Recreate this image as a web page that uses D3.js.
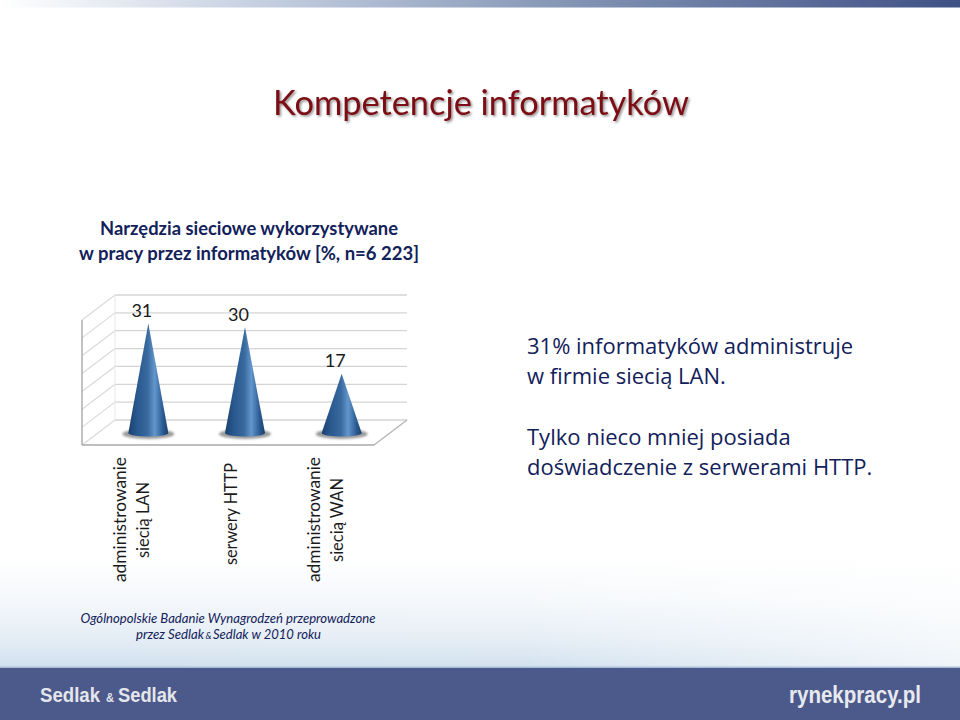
<!DOCTYPE html>
<html><head><meta charset="utf-8">
<script src="https://cdn.jsdelivr.net/npm/d3@7"></script>
<style>html,body{margin:0;padding:0;background:#fff}svg{display:block}</style></head>
<body><svg id="c" width="960" height="720"></svg>
<script>
const categories = [["administrowanie","siecią LAN"],["serwery HTTP"],["administrowanie","siecią WAN"]];
const values = [31,30,17];
const yTicks = [0,5,10,15,20,25,30,35];
const titleText = "Kompetencje informatyków";
const subtitleLines = ["Narzędzia sieciowe wykorzystywane","w pracy przez informatyków [%, n=6 223]"];
const noteLines = ["31% informatyków administruje","w firmie siecią LAN.","Tylko nieco mniej posiada","doświadczenie z serwerami HTTP."];
const sourceLine1 = "Ogólnopolskie Badanie Wynagrodzeń przeprowadzone";
const sourceLine2 = ["przez Sedlak","&","Sedlak w 2010 roku"];
const brandParts = ["Sedlak","&","Sedlak"];
const siteName = "rynekpracy.pl";

const svg = d3.select("#c");
const defs = svg.append("defs");

function grad(id, stops, x2=1, y2=0){
  const g = defs.append("linearGradient").attr("id",id).attr("x1",0).attr("y1",0).attr("x2",x2).attr("y2",y2);
  stops.forEach(s=>g.append("stop").attr("offset",s[0]).attr("stop-color",s[1]).attr("stop-opacity",s[2]===undefined?1:s[2]));
}
grad("topbar",[[0,"#ffffff"],[0.25,"#c9d3e3"],[0.6,"#8293b4"],[1,"#3f5085"]]);
grad("cone",[[0,"#1a406c"],[0.2,"#28578c"],[0.48,"#38699f"],[0.66,"#6396cc"],[0.86,"#2c5c94"],[1,"#1a406c"]]);
grad("haze",[[0,"#ffffff"],[0.4,"#f5f8fb"],[0.75,"#e4edf5"],[1,"#d0e0ee"]],0,1);
grad("hazeX",[[0,"#ffffff",0],[0.55,"#ffffff",0.05],[1,"#ffffff",0.65]]);
const blur = defs.append("filter").attr("id","blur").attr("x","-30%").attr("y","-80%").attr("width","160%").attr("height","260%");
blur.append("feGaussianBlur").attr("stdDeviation",1.1);
const soft = defs.append("filter").attr("id","soft").attr("x","-5%").attr("y","-200%").attr("width","110%").attr("height","500%");
soft.append("feGaussianBlur").attr("stdDeviation",0.7);
const ts = defs.append("filter").attr("id","ts").attr("x","-5%").attr("y","-20%").attr("width","110%").attr("height","140%");
ts.append("feDropShadow").attr("dx",1.5).attr("dy",1.5).attr("stdDeviation",1.2).attr("flood-color","#000").attr("flood-opacity",0.45);

// page background
svg.append("rect").attr("width",960).attr("height",720).attr("fill","#fff");
svg.append("rect").attr("x",0).attr("y",555).attr("width",960).attr("height",113).attr("fill","url(#haze)");
svg.append("rect").attr("x",0).attr("y",555).attr("width",960).attr("height",113).attr("fill","url(#hazeX)");
svg.append("rect").attr("x",0).attr("y",0).attr("width",960).attr("height",7.5).attr("fill","url(#topbar)");
svg.append("rect").attr("x",0).attr("y",668).attr("width",960).attr("height",52).attr("fill","#4c5a8b");
svg.append("rect").attr("x",0).attr("y",666.5).attr("width",960).attr("height",1.5).attr("fill","#a9bcd8");

// decorative dashes in the background band
[[480,665,578],[480,940,602],[480,940,607],[545,705,613],[430,760,643]].forEach(d=>{
  svg.append("line").attr("x1",d[0]).attr("x2",d[1]).attr("y1",d[2]).attr("y2",d[2])
    .attr("stroke","#fff").attr("stroke-width",3).attr("stroke-dasharray","14 6").attr("opacity",0.85).attr("filter","url(#soft)");
});
svg.append("line").attr("x1",430).attr("x2",680).attr("y1",664).attr("y2",664)
  .attr("stroke","#f2f6fa").attr("stroke-width",4).attr("stroke-dasharray","9 5").attr("filter","url(#soft)");

// text
svg.append("text").attr("x",481).attr("y",115).attr("text-anchor","middle")
  .attr("font-family","Lato").attr("font-size",35.5).attr("fill","#7a0c12").attr("filter","url(#ts)")
  .attr("textLength",416).attr("lengthAdjust","spacingAndGlyphs").text(titleText);

const subW=[298,340], subY=[235,259.5];
subtitleLines.forEach((t,i)=>svg.append("text").attr("x",249).attr("y",subY[i]).attr("text-anchor","middle")
  .attr("font-family","Lato").attr("font-weight",700).attr("font-size",18).attr("fill","#12215a")
  .attr("textLength",subW[i]).attr("lengthAdjust","spacingAndGlyphs").text(t));

const noteY=[354,384,445,475];
noteLines.forEach((t,i)=>svg.append("text").attr("x",527).attr("y",noteY[i])
  .attr("font-family","Open Sans").attr("font-size",22).attr("fill","#12215a").text(t));

// chart geometry
const x = d3.scaleBand().domain(d3.range(values.length)).range([100,390]);
const y = d3.scaleLinear().domain([0,35]).range([435,309]);
const wallY = d3.scaleLinear().domain([0,35]).range([420,295]);
const left = 82, right = 374, depthX = 33, depthY = 25;
const chart = svg.append("g");

yTicks.forEach(t=>{
  const gy = wallY(t), fy = gy+depthY;
  chart.append("line").attr("x1",left+depthX).attr("x2",407).attr("y1",gy).attr("y2",gy).attr("stroke","#d4d4d4").attr("stroke-width",1.3);
  chart.append("line").attr("x1",left).attr("x2",left+depthX).attr("y1",fy).attr("y2",gy).attr("stroke","#dadada").attr("stroke-width",1.2);
});
chart.append("line").attr("x1",left+depthX).attr("x2",left+depthX).attr("y1",wallY(35)).attr("y2",wallY(0)).attr("stroke","#e8e8e8");
chart.append("line").attr("x1",left).attr("x2",left).attr("y1",wallY(35)+depthY).attr("y2",wallY(0)+depthY).attr("stroke","#a8a8a8").attr("stroke-width",1.4);
chart.append("line").attr("x1",left).attr("x2",right).attr("y1",wallY(0)+depthY).attr("y2",wallY(0)+depthY).attr("stroke","#a8a8a8").attr("stroke-width",1.6);
chart.append("line").attr("x1",right).attr("x2",407).attr("y1",wallY(0)+depthY).attr("y2",wallY(0)).attr("stroke","#b4b4b4").attr("stroke-width",1.3);

// cones
const halfW = 20;
const cxOf = i => x(i)+x.bandwidth()/2;
const conePath = d => {
  const cx = cxOf(d.i), b = y(0)-2, t = y(d.v);
  return `M${cx},${t}L${cx+halfW},${b}A${halfW},3.5 0 0 1 ${cx-halfW},${b}Z`;
};
const data = values.map((v,i)=>({v,i}));
chart.selectAll("ellipse.sh").data(data).join("ellipse").attr("class","sh")
  .attr("cx",d=>cxOf(d.i)).attr("cy",y(0)-1).attr("rx",halfW+6).attr("ry",5)
  .attr("fill","#707070").attr("opacity",0.7).attr("filter","url(#blur)");
chart.selectAll("path.cone").data(data).join("path").attr("class","cone").attr("d",conePath).attr("fill","url(#cone)");
chart.selectAll("text.val").data(data).join("text").attr("class","val")
  .attr("x",d=>cxOf(d.i)-6.5).attr("y",d=>y(d.v)-6.5).attr("text-anchor","middle")
  .attr("font-family","Lato").attr("font-size",18).attr("fill","#1a1a1a").text(d=>d.v);

// category labels
const catBase=[[126,149],[237],[320,343]];
const catTop=[[457,482],[463],[457,478]];
const catLen=[[125,76],[102],[125,84]];
categories.forEach((lines,i)=>lines.forEach((t,j)=>{
  svg.append("text").attr("transform",`translate(${catBase[i][j]},${catTop[i][j]+catLen[i][j]}) rotate(-90)`)
    .attr("font-family","Lato").attr("font-size",17.5).attr("fill","#1a1a1a")
    .attr("textLength",catLen[i][j]).attr("lengthAdjust","spacingAndGlyphs").text(t);
}));

// source
const srcStyle = (el,size)=>el.attr("font-family","Lato").attr("font-style","italic").attr("font-size",size).attr("fill","#12215a");
srcStyle(svg.append("text").attr("x",228).attr("y",623).attr("text-anchor","middle"),13.5)
  .attr("textLength",295).attr("lengthAdjust","spacingAndGlyphs").text(sourceLine1);
const srcX=[136,205.5,213], srcL=[68,6,108], srcS=[13.5,9.5,13.5];
sourceLine2.forEach((t,i)=>srcStyle(svg.append("text").attr("x",srcX[i]).attr("y",639),srcS[i])
  .attr("textLength",srcL[i]).attr("lengthAdjust","spacingAndGlyphs").text(t));

// footer
const brX=[40,106,118], brL=[60,8,59], brS=[19.5,12,19.5];
brandParts.forEach((t,i)=>svg.append("text").attr("x",brX[i]).attr("y",702)
  .attr("font-family","Liberation Sans").attr("font-weight",700).attr("font-size",brS[i]).attr("fill","#e4e6ec")
  .attr("textLength",brL[i]).attr("lengthAdjust","spacingAndGlyphs").text(t));
svg.append("text").attr("x",789).attr("y",703).attr("font-family","Liberation Sans").attr("font-weight",700).attr("font-size",23).attr("fill","#e8eaf0").attr("textLength",132).attr("lengthAdjust","spacingAndGlyphs").text(siteName);
</script></body></html>
